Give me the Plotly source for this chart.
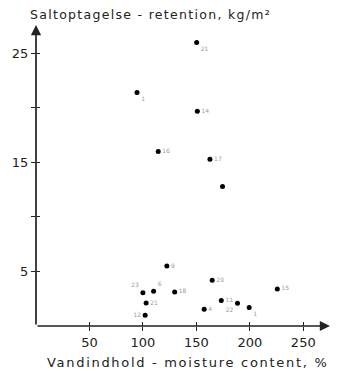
import plotly.graph_objects as go

moisture = [150.3, 94.5, 150.9, 114.3, 162.7, 174.5, 122.4, 164.8, 100.0, 110.0,
            129.7, 103.0, 102.1, 173.3, 188.5, 157.3, 199.4, 225.7]
retention = [26.0, 21.4, 19.7, 16.0, 15.3, 12.8, 5.5, 4.2, 3.06, 3.18,
             3.12, 2.1, 0.98, 2.33, 2.08, 1.53, 1.69, 3.4]
point_labels = ["21", "1", "14", "16", "17", "", "9", "20", "23", "6",
                "18", "21", "12", "11", "22", "4", "1", "15"]
label_pos = ["bottom right", "bottom right", "middle right", "middle right", "middle right", "middle right",
             "middle right", "middle right", "top left", "top right",
             "middle right", "middle right", "middle left", "middle right", "bottom left",
             "middle right", "bottom right", "middle right"]

x_ticks = [50, 100, 150, 200, 250]
y_ticks = [5, 10, 15, 20, 25]
y_ticktext = ["5", "", "15", "", "25"]

x_max = 275
y_max = 27.6

font = "DejaVu Sans"

fig = go.Figure()
fig.add_trace(go.Scatter(
    x=moisture, y=retention, mode="markers+text",
    marker=dict(color="black", size=5),
    text=point_labels, textposition=label_pos,
    textfont=dict(size=6, color="#9a9a9a", family=font),
    showlegend=False, hoverinfo="skip",
))
fig.add_trace(go.Scatter(x=[0], y=[0], xaxis="x2", yaxis="y2", mode="markers",
                         marker=dict(opacity=0), showlegend=False, hoverinfo="skip"))

fig.update_layout(
    width=342, height=371,
    margin=dict(l=28, r=11.5, t=25, b=45.3),
    paper_bgcolor="white", plot_bgcolor="white",
    font=dict(family=font, color="#222"),
    xaxis=dict(range=[0, x_max], tickvals=x_ticks, ticks="outside", ticklen=4,
               tickwidth=1, tickcolor="#222", showgrid=False, zeroline=False,
               showline=False, tickfont=dict(size=13, color="#222"), fixedrange=True),
    yaxis=dict(range=[0, y_max], tickvals=y_ticks, ticktext=y_ticktext, ticks="outside",
               ticklen=4, tickwidth=1, tickcolor="#222", showgrid=False, zeroline=False,
               showline=False, tickfont=dict(size=13, color="#222"), fixedrange=True),
    xaxis2=dict(overlaying="x", matches="x", tickvals=x_ticks, ticks="inside", ticklen=4,
                tickcolor="#222", showticklabels=False, showgrid=False, zeroline=False),
    yaxis2=dict(overlaying="y", matches="y", tickvals=y_ticks, ticks="inside", ticklen=4,
                tickcolor="#222", showticklabels=False, showgrid=False, zeroline=False),
)

fig.add_annotation(x=x_max, y=0, ax=0, ay=0, xref="x", yref="y", axref="x", ayref="y",
                   showarrow=True, arrowhead=2, arrowsize=1.2, arrowwidth=1.7,
                   arrowcolor="#222", text="")
fig.add_annotation(x=0, y=y_max, ax=0, ay=0, xref="x", yref="y", axref="x", ayref="y",
                   showarrow=True, arrowhead=2, arrowsize=1.2, arrowwidth=1.7,
                   arrowcolor="#222", text="")

fig.add_annotation(text='<span style="letter-spacing:1.3px">Saltoptagelse - retention, kg/m²</span>',
                   xref="paper", yref="paper",
                   x=0.0, y=1, xshift=-8, yshift=1, xanchor="left", yanchor="bottom", showarrow=False,
                   font=dict(size=12.5, color="#222"))
fig.add_annotation(text='<span style="letter-spacing:1.7px">Vandindhold - moisture content, %</span>',
                   xref="paper", yref="paper",
                   x=1.0, y=0, yshift=-27, xanchor="right", yanchor="top", showarrow=False,
                   font=dict(size=13, color="#222"))

fig.write_html("out.html")
